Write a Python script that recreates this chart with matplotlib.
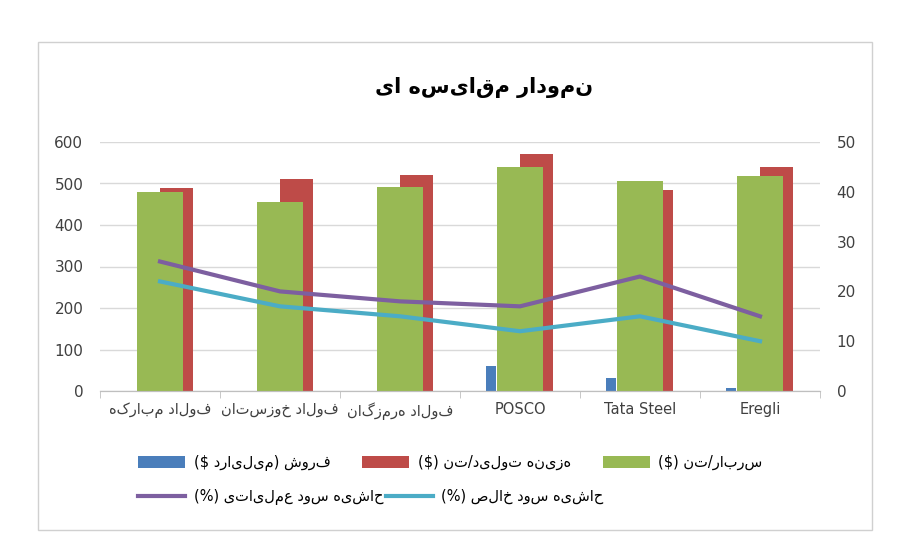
import matplotlib
matplotlib.use("Agg")
import matplotlib.pyplot as plt
import numpy as np
from matplotlib.patches import Rectangle

# data
categories = ["فولاد مبارکه", "فولاد خوزستان", "فولاد هرمزگان", "POSCO", "Tata Steel", "Eregli"]
sales = [0, 0, 0, 60, 32, 7]
cost_per_ton = [490, 510, 520, 570, 485, 540]
overhead_per_ton = [480, 455, 492, 540, 505, 517]
op_margin = [26, 20, 18, 17, 23, 15]
net_margin = [22, 17, 15, 12, 15, 10]

lbl_sales = "فروش (میلیارد $)"
lbl_cost = "هزینه تولید/تن ($)"
lbl_over = "سربار/تن ($)"
lbl_op = "حاشیه سود عملیاتی (%)"
lbl_net = "حاشیه سود خالص (%)"
title = "نمودار مقایسه ای"

_swap = str.maketrans("()", ")(")


def fa(s):
    # matplotlib has no RTL layout: reverse for visual order
    if not any('\u0600' <= ch <= '\u06ff' for ch in s):
        return s
    return s[::-1].translate(_swap)


plt.rcParams['font.family'] = 'DejaVu Sans'
fig = plt.figure(figsize=(9.21, 5.57), dpi=100)
fig.patches.append(Rectangle((38 / 921, 27 / 557), 834 / 921, 488 / 557, transform=fig.transFigure,
                             fill=False, edgecolor='#d0d0d0', lw=1))

ax = fig.add_axes([100 / 921, 166 / 557, 720 / 921, 249 / 557])
ax2 = ax.twinx()

x = np.arange(len(categories))
ax.bar(x - 0.24, sales, 0.08, color='#4a7ebb', label=fa(lbl_sales), zorder=2)
ax.bar(x + 0.14, cost_per_ton, 0.275, color='#be4b48', label=fa(lbl_cost), zorder=2)
ax.bar(x, overhead_per_ton, 0.38, color='#98b954', label=fa(lbl_over), zorder=3)
ax2.plot(x, op_margin, color='#7d5fa0', lw=3, label=fa(lbl_op))
ax2.plot(x, net_margin, color='#4bacc6', lw=3, label=fa(lbl_net))

ax.set_xlim(-0.5, len(categories) - 0.5)
ax.set_ylim(0, 600)
ax2.set_ylim(0, 50)
ax.set_yticks(range(0, 601, 100))
ax2.set_yticks(range(0, 51, 10))
ax.set_xticks(x)
ax.set_xticklabels([fa(c) for c in categories], fontsize=10.5, color='#404040')
ax.set_xticks(np.arange(-0.5, len(categories)), minor=True)
ax.tick_params(axis='x', which='major', length=0, pad=8)
ax.tick_params(axis='x', which='minor', length=5, color='#bfbfbf')
ax.tick_params(axis='y', length=0, labelsize=11, labelcolor='#404040', pad=12)
ax2.tick_params(axis='y', length=0, labelsize=11, labelcolor='#404040', pad=12)
ax.grid(axis='y', color='#d9d9d9', lw=1, zorder=0)
ax.set_axisbelow(True)
for a in (ax, ax2):
    for s in ['top', 'left', 'right']:
        a.spines[s].set_visible(False)
    a.spines['bottom'].set_color('#bfbfbf')

fig.text(484 / 921, 1 - 88 / 557, fa(title), ha='center', va='center', fontsize=15, fontweight='bold')

h1, l1 = ax.get_legend_handles_labels()
h2, l2 = ax2.get_legend_handles_labels()
fig.legend(h1, l1, loc='center left', bbox_to_anchor=(125 / 921, 1 - 463 / 557), ncol=3, frameon=False,
           fontsize=10.5, handlelength=3.2, columnspacing=2.2, handleheight=0.8, handletextpad=0.6)
fig.legend(h2, l2, loc='center left', bbox_to_anchor=(125 / 921, 1 - 497 / 557), ncol=2, frameon=False,
           fontsize=10.5, handlelength=3.2, columnspacing=0.2, handletextpad=0.6)

fig.savefig('out.png', dpi=100)
